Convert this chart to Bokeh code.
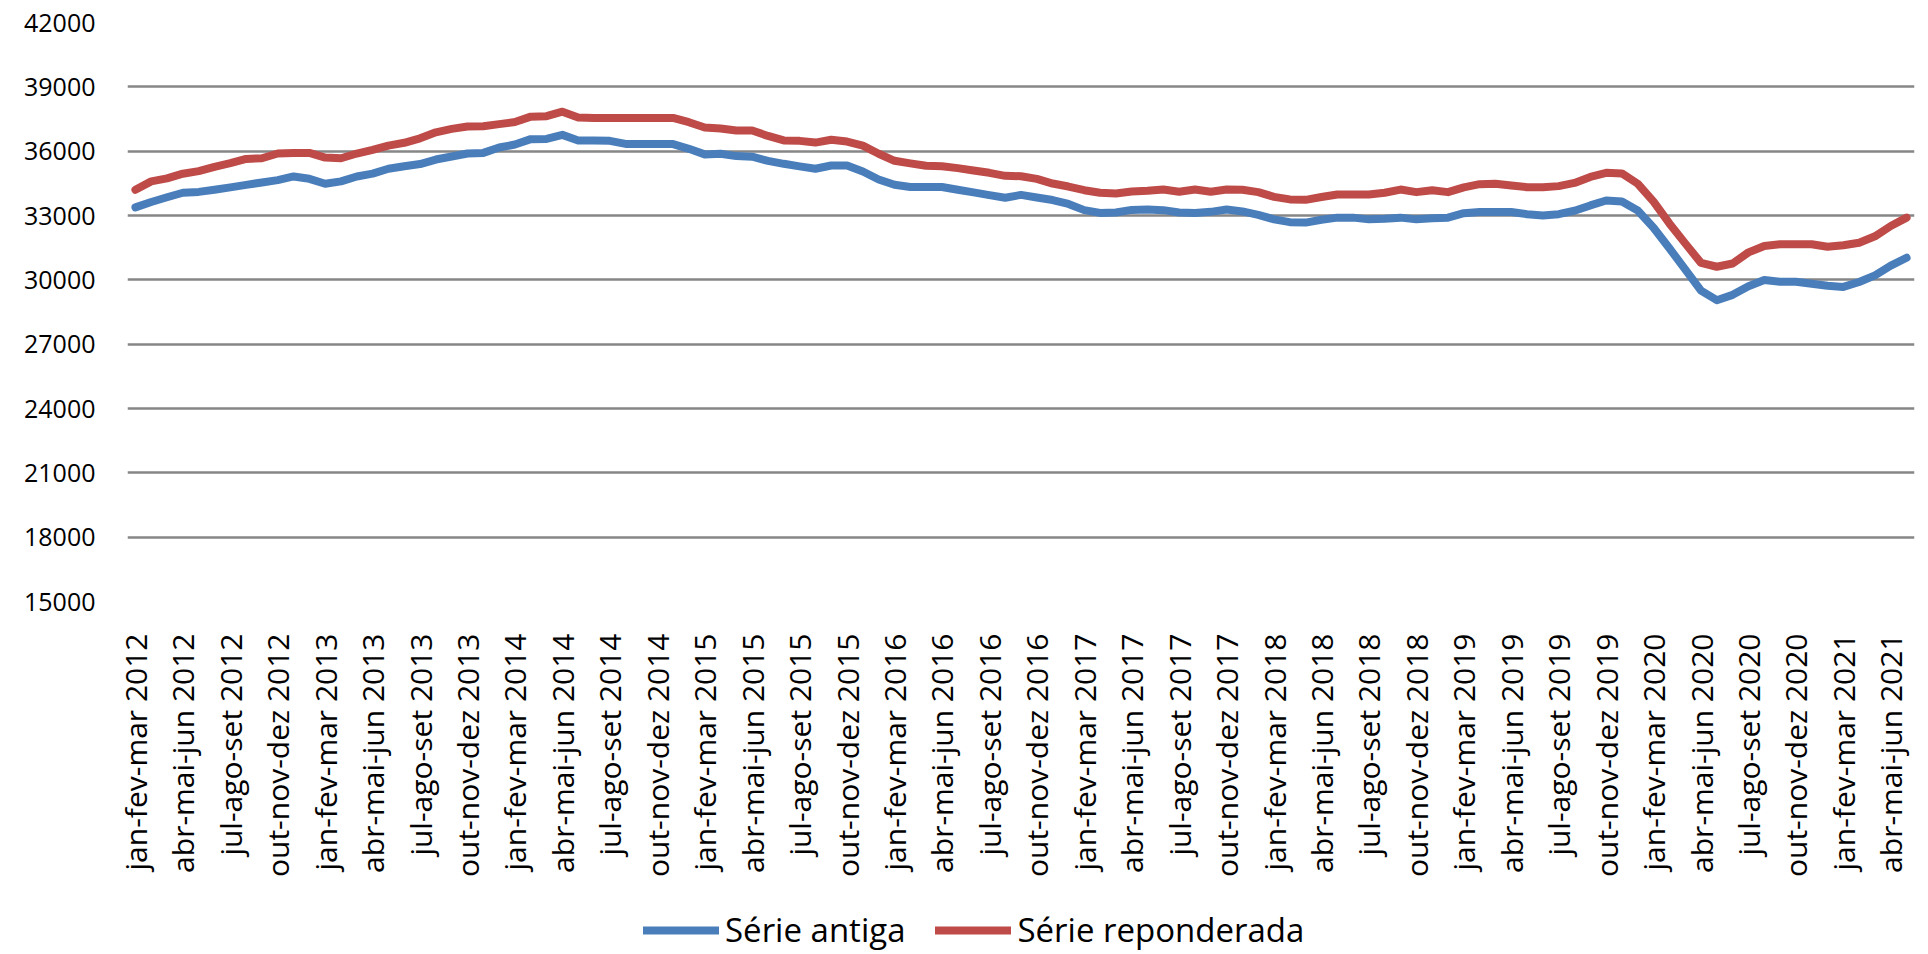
import math
from bokeh.plotting import figure
from bokeh.layouts import column
from bokeh.models import FixedTicker, Legend, LegendItem, Range1d
from bokeh.embed import file_html
from bokeh.resources import INLINE

serie_antiga = [
    33380, 33630, 33850, 34060, 34100, 34200, 34310, 34430, 34540, 34650,
    34820, 34710, 34480, 34590, 34820, 34950, 35180, 35300, 35400, 35610,
    35750, 35890, 35920, 36170, 36310, 36560, 36570, 36760, 36500, 36500,
    36480, 36340, 36340, 36340, 36330, 36110, 35850, 35880, 35770, 35740,
    35550, 35410, 35290, 35180, 35330, 35330, 35050, 34680, 34430, 34330,
    34330, 34330, 34200, 34080, 33950, 33830, 33960, 33840, 33720, 33540,
    33250, 33120, 33140, 33260, 33280, 33250, 33140, 33120, 33170, 33280,
    33190, 33030, 32820, 32690, 32670, 32800, 32900, 32900, 32820, 32850,
    32900, 32820, 32870, 32900, 33110, 33160, 33160, 33160, 33060, 33000,
    33060, 33220, 33470, 33700, 33650, 33230, 32430, 31470, 30490, 29500,
    29050, 29300, 29700, 29990, 29910, 29910, 29820, 29720, 29670, 29900,
    30210, 30660, 31030,
]

serie_reponderada = [
    34200, 34590, 34730, 34950, 35070, 35270, 35440, 35640, 35670, 35890,
    35920, 35920, 35700, 35670, 35890, 36060, 36260, 36390, 36600, 36880,
    37040, 37150, 37160, 37260, 37360, 37610, 37630, 37840, 37570, 37550,
    37550, 37550, 37550, 37550, 37550, 37350, 37100, 37060, 36960, 36960,
    36710, 36500, 36480, 36400, 36530, 36450, 36260, 35880, 35550, 35430,
    35320, 35300, 35210, 35100, 34990, 34850, 34830, 34710, 34490, 34350,
    34180, 34060, 34030, 34120, 34150, 34210, 34110, 34210, 34110, 34210,
    34200, 34090, 33870, 33750, 33730, 33860, 33980, 33980, 33980, 34060,
    34210, 34090, 34180, 34090, 34310, 34460, 34480, 34400, 34320, 34320,
    34370, 34520, 34800, 34990, 34960, 34480, 33650, 32630, 31700, 30790,
    30610, 30760, 31280, 31580, 31660, 31660, 31660, 31540, 31610, 31730,
    32030, 32510, 32900,
]

tick_labels = [
    "jan-fev-mar 2012", "abr-mai-jun 2012", "jul-ago-set 2012", "out-nov-dez 2012",
    "jan-fev-mar 2013", "abr-mai-jun 2013", "jul-ago-set 2013", "out-nov-dez 2013",
    "jan-fev-mar 2014", "abr-mai-jun 2014", "jul-ago-set 2014", "out-nov-dez 2014",
    "jan-fev-mar 2015", "abr-mai-jun 2015", "jul-ago-set 2015", "out-nov-dez 2015",
    "jan-fev-mar 2016", "abr-mai-jun 2016", "jul-ago-set 2016", "out-nov-dez 2016",
    "jan-fev-mar 2017", "abr-mai-jun 2017", "jul-ago-set 2017", "out-nov-dez 2017",
    "jan-fev-mar 2018", "abr-mai-jun 2018", "jul-ago-set 2018", "out-nov-dez 2018",
    "jan-fev-mar 2019", "abr-mai-jun 2019", "jul-ago-set 2019", "out-nov-dez 2019",
    "jan-fev-mar 2020", "abr-mai-jun 2020", "jul-ago-set 2020", "out-nov-dez 2020",
    "jan-fev-mar 2021", "abr-mai-jun 2021",
]

y_ticks = [15000, 18000, 21000, 24000, 27000, 30000, 33000, 36000, 39000, 42000]

series_names = ["Série antiga", "Série reponderada"]
series_colors = ["#4A7EBB", "#BE4B48"]

n = len(serie_antiga)
x = list(range(n))
tick_pos = [3 * i for i in range(len(tick_labels))]

FONT = "Open Sans"
LINE_W = 8

# ---------------- main chart ----------------
p = figure(
    width=1920, height=880,
    output_backend="svg", toolbar_location=None,
    x_range=Range1d(-0.5, n - 0.5), y_range=Range1d(15000, 42000),
    min_border_left=127, min_border_right=6, min_border_top=22, min_border_bottom=274,
)
p.outline_line_color = None
p.background_fill_color = "white"
p.border_fill_color = "white"

p.xgrid.grid_line_color = None
p.ygrid.ticker = FixedTicker(ticks=y_ticks)
p.ygrid.grid_line_color = "#878787"
p.ygrid.grid_line_width = 2.5

p.yaxis.ticker = FixedTicker(ticks=y_ticks)
p.yaxis.major_label_overrides = {v: str(v) for v in y_ticks}
p.yaxis.axis_line_color = None
p.yaxis.major_tick_line_color = None
p.yaxis.minor_tick_line_color = None
p.yaxis.major_label_standoff = 26
p.yaxis.major_label_text_font = FONT
p.yaxis.major_label_text_font_size = "25px"
p.yaxis.major_label_text_color = "black"

p.xaxis.ticker = FixedTicker(ticks=tick_pos)
p.xaxis.major_label_overrides = {pos: lab for pos, lab in zip(tick_pos, tick_labels)}
p.xaxis.major_label_orientation = math.pi / 2
p.xaxis.axis_line_color = None
p.xaxis.major_tick_line_color = None
p.xaxis.minor_tick_line_color = None
p.xaxis.major_label_standoff = 26
p.xaxis.major_label_text_font = FONT
p.xaxis.major_label_text_font_size = "30px"
p.xaxis.major_label_text_color = "black"

p.line(x, serie_antiga, line_color=series_colors[0], line_width=LINE_W,
       line_join="round", line_cap="round")
p.line(x, serie_reponderada, line_color=series_colors[1], line_width=LINE_W,
       line_join="round", line_cap="round")

# ---------------- legend strip ----------------
pl = figure(
    width=1920, height=74,
    output_backend="svg", toolbar_location=None,
    x_axis_type=None, y_axis_type=None,
    x_range=Range1d(0, 1), y_range=Range1d(0, 1),
    min_border=0,
)
pl.outline_line_color = None
pl.xgrid.grid_line_color = None
pl.ygrid.grid_line_color = None
# sample lines kept outside the visible range; only their legend glyphs show
l1 = pl.line([-5, -4], [-5, -5], line_color=series_colors[0], line_width=LINE_W, line_cap="round")
l2 = pl.line([-5, -4], [-5, -5], line_color=series_colors[1], line_width=LINE_W, line_cap="round")

legend = Legend(
    items=[LegendItem(label=series_names[0], renderers=[l1]),
           LegendItem(label=series_names[1], renderers=[l2])],
    location=(516, 2), orientation="horizontal",
    padding=0, margin=0, spacing=30, label_standoff=6,
    glyph_width=76, glyph_height=40, label_height=40,
    label_text_font=FONT, label_text_font_size="33px", label_text_color="black",
    border_line_color=None, background_fill_alpha=0,
)
pl.add_layout(legend)

layout = column(p, pl, spacing=0)

open("out.html", "w").write(file_html(layout, INLINE))
